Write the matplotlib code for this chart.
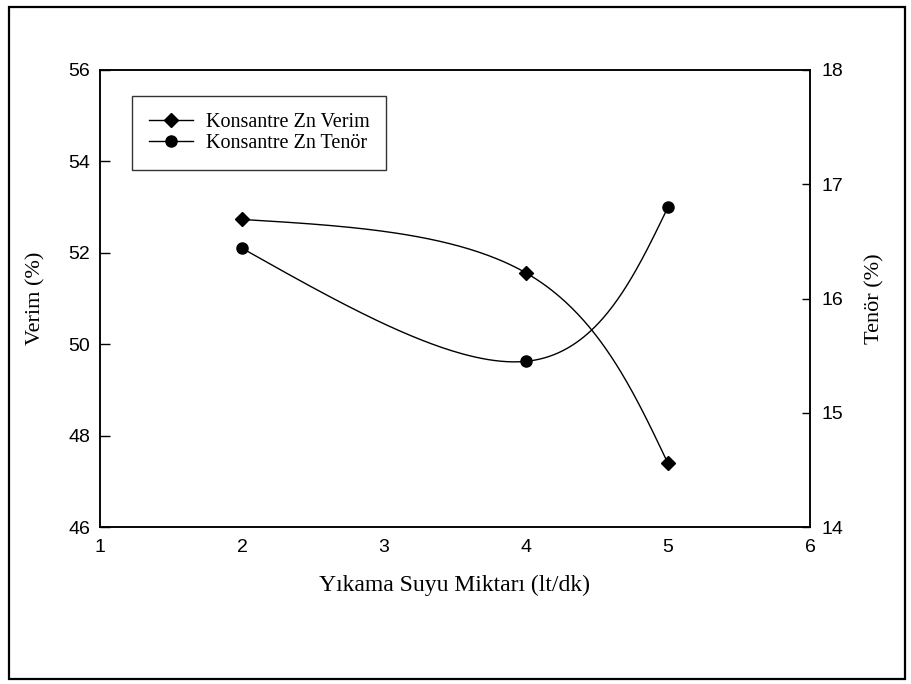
import numpy as np
import matplotlib
matplotlib.use("Agg")
import matplotlib.pyplot as plt
from matplotlib.lines import Line2D
from matplotlib.patches import Rectangle

# ---- data ----
x_vals = [2, 4, 5]
verim = [52.73, 51.56, 47.39]      # left axis (%)
tenor = [16.44, 15.45, 16.80]      # right axis (%)
x_ticks = [1, 2, 3, 4, 5, 6]
verim_ticks = [46, 48, 50, 52, 54, 56]
tenor_ticks = [14, 15, 16, 17, 18]
label_verim = "Konsantre Zn Verim"
label_tenor = "Konsantre Zn Tenör"
xlabel = "Yıkama Suyu Miktarı (lt/dk)"
ylabel_left = "Verim (%)"
ylabel_right = "Tenör (%)"


def natural_param_spline(xs, ys, n=80):
    P = np.column_stack([xs, ys]).astype(float)
    k = len(P)
    A = np.zeros((k, k))
    B = np.zeros((k, 2))
    A[0, 0], A[0, 1] = 2, 1
    B[0] = 3 * (P[1] - P[0])
    for i in range(1, k - 1):
        A[i, i - 1], A[i, i], A[i, i + 1] = 1, 4, 1
        B[i] = 3 * (P[i + 1] - P[i - 1])
    A[-1, -2], A[-1, -1] = 1, 2
    B[-1] = 3 * (P[-1] - P[-2])
    M = np.linalg.solve(A, B)
    out = []
    t = np.linspace(0, 1, n)[:, None]
    h00 = 2 * t**3 - 3 * t**2 + 1
    h10 = t**3 - 2 * t**2 + t
    h01 = -2 * t**3 + 3 * t**2
    h11 = t**3 - t**2
    for i in range(k - 1):
        seg = h00 * P[i] + h10 * M[i] + h01 * P[i + 1] + h11 * M[i + 1]
        out.append(seg if i == 0 else seg[1:])
    out = np.vstack(out)
    return out[:, 0], out[:, 1]


W, H = 912, 684
fig = plt.figure(figsize=(W / 100, H / 100), dpi=100)
ax = fig.add_axes([100 / W, 1 - 527 / H, 710 / W, 457 / H])
ax2 = ax.twinx()

sans = "Liberation Sans"
serif = "Liberation Serif"

# curves
sx, sy = natural_param_spline(x_vals, verim)
ax.plot(sx, sy, color="black", lw=1.0, zorder=2)
ax.plot(x_vals, verim, linestyle="none", marker="D", ms=6.8, color="black", zorder=3)
tx, ty = natural_param_spline(x_vals, tenor)
ax2.plot(tx, ty, color="black", lw=1.0, zorder=2)
ax2.plot(x_vals, tenor, linestyle="none", marker="o", ms=8, color="black", zorder=3)

ax.set_xlim(1, 6)
ax.set_ylim(46, 56)
ax2.set_ylim(14, 18)
ax.set_xticks(x_ticks)
ax.set_yticks(verim_ticks)
ax2.set_yticks(tenor_ticks)

ax.tick_params(axis="x", length=0, pad=9, labelsize=14)
ax.tick_params(axis="y", direction="in", length=7, width=1, pad=7, labelsize=14)
ax2.tick_params(axis="y", direction="in", length=6, width=1, pad=8, labelsize=14)
for lab in ax.get_xticklabels() + ax.get_yticklabels() + ax2.get_yticklabels():
    lab.set_fontfamily(sans)

for a in (ax, ax2):
    for s in a.spines.values():
        s.set_linewidth(1.1)
        s.set_color("black")

ax.set_xlabel(xlabel, fontfamily=serif, fontsize=17, va="center")
ax.xaxis.set_label_coords(0.5, -0.127)
ax.set_ylabel(ylabel_left, fontfamily=serif, fontsize=16, va="center")
ax.yaxis.set_label_coords((36 - 100) / 710, 0.5)
ax2.set_ylabel(ylabel_right, fontfamily=serif, fontsize=16, va="center", rotation=90)
ax2.yaxis.set_label_coords((875 - 100) / 710, 0.5)

handles = [
    Line2D([], [], color="black", lw=1.0, marker="D", ms=6.8),
    Line2D([], [], color="black", lw=1.0, marker="o", ms=8),
]
leg = ax2.legend(handles, [label_verim, label_tenor], loc="upper left",
                 bbox_to_anchor=((132 - 100) / 710, (527 - 96) / 457),
                 borderaxespad=0, frameon=True, fancybox=False, shadow=False,
                 prop={"family": serif, "size": 14.5}, handlelength=2.2,
                 handletextpad=0.6, labelspacing=0.08, borderpad=0.85)
leg.get_frame().set_edgecolor("black")
leg.get_frame().set_linewidth(1.0)
leg.set_zorder(10)

fig.add_artist(Rectangle((9 / W, 1 - 679 / H), 896 / W, 672 / H, transform=fig.transFigure,
                         fill=False, edgecolor="black", lw=1.6))

fig.savefig("out.png", dpi=100)
